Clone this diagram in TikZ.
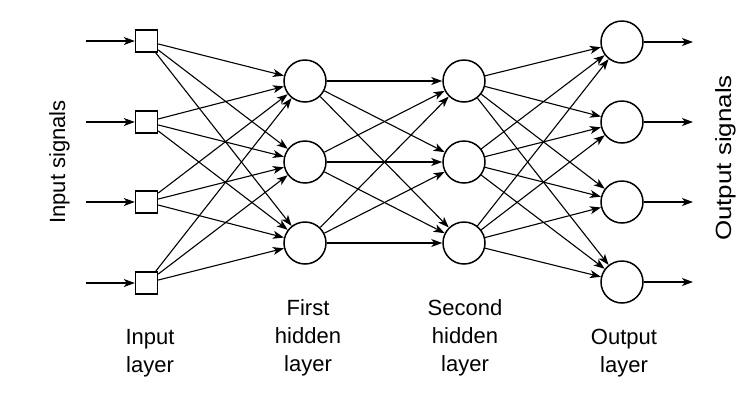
\documentclass[tikz,border=0pt]{standalone}
\usepackage{fontspec}
\setmainfont{Liberation Sans}
\usetikzlibrary{arrows.meta}
\begin{document}
\begin{tikzpicture}[x=1pt,y=-1pt,
  unit/.style={draw,line width=1.5pt,circle,minimum size=42pt,inner sep=0pt},
  inunit/.style={draw,line width=1.4pt,rectangle,minimum size=22pt,inner sep=0pt},
  conn/.style={line width=1.1pt,-{Stealth[length=11pt,width=8pt,inset=3pt]}},
  lbl/.style={font=\fontsize{22pt}{28pt}\selectfont,align=center,inner sep=0pt},
  side/.style={font=\fontsize{22pt}{28pt}\selectfont,inner sep=0pt,rotate=90}]
\useasboundingbox (0,0) rectangle (745,400);
% input layer
\foreach \i/\y in {1/41,2/122,3/202,4/283}{
  \node[inunit] (i\i) at (146.5,\y) {};
  \coordinate (s\i) at (86,\y);
  \draw[conn] (s\i) -- (i\i);
}
% hidden layers
\foreach \j/\y in {1/81,2/162,3/243}{
  \node[unit] (h\j) at (305,\y) {};
  \node[unit] (g\j) at (464,\y) {};
}
% output layer
\foreach \k/\y in {1/42,2/122,3/202,4/282}{
  \node[unit] (o\k) at (622,\y) {};
  \coordinate (t\k) at (693,\y);
  \draw[conn] (o\k) -- (t\k);
}
% connections
\foreach \i in {1,...,4}{\foreach \j in {1,2,3}{\draw[conn] (i\i) -- (h\j);}}
\foreach \i in {1,2,3}{\foreach \j in {1,2,3}{\draw[conn] (h\i) -- (g\j);}}
\foreach \i in {1,2,3}{\foreach \k in {1,...,4}{\draw[conn] (g\i) -- (o\k);}}
% labels
\node[side,anchor=base] (insig) at (65,162) {Input signals};
\node[side,anchor=base] (outsig) at (731,158) {\scalebox{1.18}[1]{Output signals}};
\node[lbl,anchor=base] (linput) at (150,372) {Input\\layer};
\node[lbl,anchor=base] (lh1) at (308,371) {First\\hidden\\layer};
\node[lbl,anchor=base] (lh2) at (465,371) {Second\\hidden\\layer};
\node[lbl,anchor=base] (lout) at (624,372) {Output\\layer};
\end{tikzpicture}
\end{document}
